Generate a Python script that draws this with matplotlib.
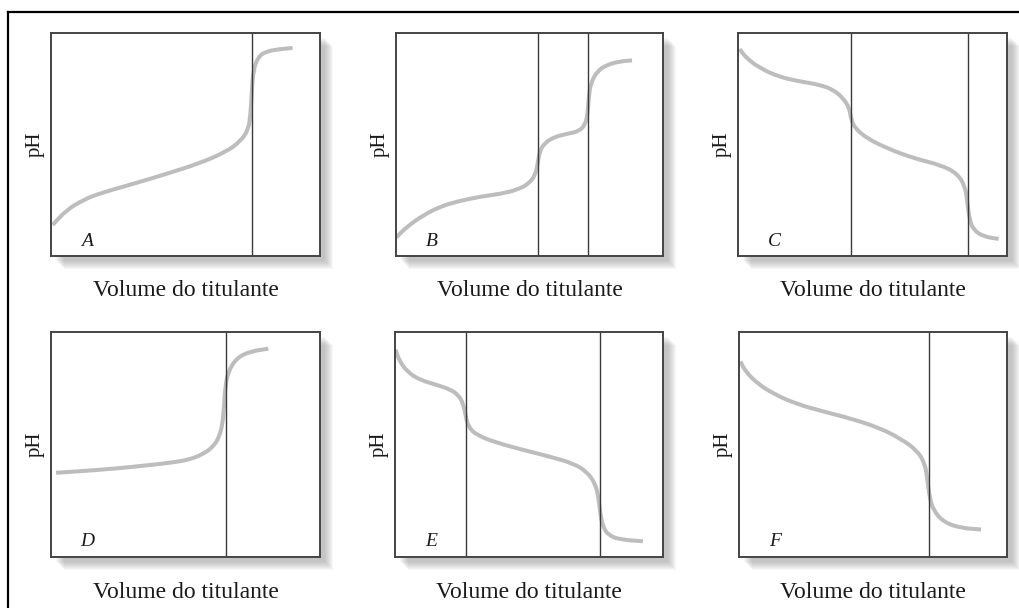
import matplotlib.pyplot as plt
from matplotlib.patches import Rectangle, PathPatch
from matplotlib.lines import Line2D
from matplotlib.path import Path

plt.rcParams['font.family'] = ['Liberation Serif', 'DejaVu Serif']

# Curves: volume (0-10, arbitrary) and pH (0-14)
vol_a = [0.06, 0.58, 1.20, 1.82, 3.06, 4.30, 5.54, 6.53, 7.03, 7.34, 7.42, 7.46, 7.52, 7.71, 8.02, 8.51, 8.98]
ph_a = [1.95, 2.89, 3.52, 3.94, 4.53, 5.16, 5.83, 6.56, 7.19, 7.92, 8.97, 10.23, 11.69, 12.53, 12.85, 12.99, 13.06]
eq_a = [7.46]

vol_b = [0.01, 0.41, 1.04, 1.66, 2.28, 3.16, 3.91, 4.53, 4.97, 5.22, 5.31, 5.38, 5.56, 5.91, 6.40, 6.84,
         7.09, 7.18, 7.22, 7.30, 7.53, 7.90, 8.40, 8.84]
ph_b = [1.17, 1.84, 2.58, 3.10, 3.42, 3.73, 3.90, 4.15, 4.53, 5.09, 5.83, 6.56, 7.08, 7.46, 7.67, 7.82,
        8.24, 8.97, 10.02, 10.86, 11.59, 12.01, 12.22, 12.28]
eq_b = [5.31, 7.18]

vol_c = [0.06, 0.31, 0.81, 1.55, 2.30, 3.04, 3.54, 3.91, 4.14, 4.21, 4.35, 4.78, 5.53, 6.52, 7.52, 8.14,
         8.45, 8.53, 8.61, 8.76, 9.13, 9.69]
ph_c = [12.99, 12.43, 11.80, 11.23, 10.96, 10.75, 10.44, 9.91, 9.28, 8.55, 8.03, 7.40, 6.77, 6.14, 5.72, 5.20,
        4.36, 3.31, 2.26, 1.63, 1.22, 1.07]
eq_c = [4.21, 8.55]

vol_d = [0.19, 1.20, 2.44, 3.68, 4.55, 5.17, 5.66, 6.03, 6.26, 6.38, 6.43, 6.48, 6.59, 6.90, 7.40, 8.08]
ph_d = [5.24, 5.35, 5.51, 5.72, 5.89, 6.07, 6.41, 6.86, 7.49, 8.32, 9.36, 10.61, 11.55, 12.38, 12.79, 12.96]
eq_d = [6.49]

vol_e = [0.02, 0.17, 0.49, 0.92, 1.55, 2.04, 2.36, 2.54, 2.63, 2.73, 3.04, 3.79, 4.79, 5.79, 6.66, 7.16,
         7.47, 7.59, 7.66, 7.76, 7.97, 8.40, 9.25]
ph_e = [12.90, 12.17, 11.48, 11.03, 10.71, 10.44, 10.09, 9.57, 8.84, 8.11, 7.59, 7.11, 6.66, 6.24, 5.82, 5.30,
        4.58, 3.74, 2.70, 1.87, 1.35, 1.08, 0.98]
eq_e = [2.66, 7.64]

vol_f = [0.05, 0.24, 0.67, 1.29, 2.16, 3.16, 4.27, 5.27, 6.01, 6.63, 6.94, 7.03, 7.11, 7.25, 7.63, 8.25, 9.03]
ph_f = [12.17, 11.55, 10.82, 10.15, 9.51, 9.05, 8.57, 8.01, 7.38, 6.66, 5.82, 4.78, 3.74, 2.91, 2.18, 1.81, 1.71]
eq_f = [7.08]

letters = ['A', 'B', 'C', 'D', 'E', 'F']
curves = [(vol_a, ph_a, eq_a), (vol_b, ph_b, eq_b), (vol_c, ph_c, eq_c),
          (vol_d, ph_d, eq_d), (vol_e, ph_e, eq_e), (vol_f, ph_f, eq_f)]


def smooth_path(xs, ys):
    # quadratic bezier through midpoints, read points act as control points
    pts = list(zip(xs, ys))
    verts = [pts[0]]
    codes = [Path.MOVETO]
    mid = lambda p, q: ((p[0] + q[0]) / 2, (p[1] + q[1]) / 2)
    verts.append(mid(pts[0], pts[1]))
    codes.append(Path.LINETO)
    for i in range(1, len(pts) - 1):
        verts += [pts[i], mid(pts[i], pts[i + 1])]
        codes += [Path.CURVE3, Path.CURVE3]
    verts.append(pts[-1])
    codes.append(Path.LINETO)
    return Path(verts, codes)


W, H = 1019, 608
fig = plt.figure(figsize=(W / 100, H / 100), dpi=100)

# panel boxes in pixels: left, top, right, bottom
boxes = [(51, 33, 320, 256), (396, 33, 663, 256), (738, 33, 1007, 256),
         (51, 332, 320, 557), (395, 332, 663, 557), (739, 332, 1007, 557)]

# outer frame (only top and left visible)
fig.add_artist(Line2D([8 / W, 1], [1 - 11.5 / H, 1 - 11.5 / H], color='black', lw=1.6,
                      transform=fig.transFigure))
fig.add_artist(Line2D([8 / W, 8 / W], [0, 1 - 11.5 / H], color='black', lw=1.6,
                      transform=fig.transFigure))

for (l, t, r, b), letter, (v, ph, eq) in zip(boxes, letters, curves):
    # soft drop shadow
    for d in range(5, 14):
        fig.add_artist(Rectangle(((l + d) / W, 1 - (b + d) / H), (r - l) / W, (b - t) / H,
                                 transform=fig.transFigure, facecolor='#7a7a7a',
                                 edgecolor='none', alpha=0.06, zorder=0))
    ax = fig.add_axes([l / W, 1 - b / H, (r - l) / W, (b - t) / H], zorder=2)
    ax.set_facecolor('white')
    ax.add_patch(PathPatch(smooth_path(v, ph), facecolor='none', edgecolor='#bdbdbd',
                           lw=2.9, capstyle='butt', joinstyle='round'))
    for x in eq:
        ax.axvline(x, color='#3a3a3a', lw=1.0)
    ax.set_xlim(0, 10)
    ax.set_ylim(0, 14)
    ax.set_xticks([])
    ax.set_yticks([])
    for s in ax.spines.values():
        s.set_color('#444444')
        s.set_linewidth(1.4)
    ax.text(0.135, 0.067, letter, transform=ax.transAxes, style='italic',
            fontsize=14, ha='center', va='center', color='#1a1a1a')
    ax.text(-0.059, 0.5, 'pH', transform=ax.transAxes, rotation=90,
            fontsize=15, ha='center', va='center', color='#1a1a1a')
    ax.text(0.5, -35 / (b - t), 'Volume do titulante', transform=ax.transAxes,
            fontsize=17, ha='center', va='center', color='#1a1a1a')

fig.savefig('out.png', dpi=100)
